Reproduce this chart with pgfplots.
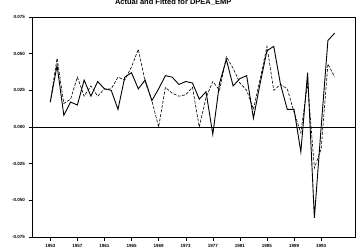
\documentclass[border=0pt]{standalone}
\usepackage{fontspec}
\setmainfont{Liberation Sans}
\usepackage{pgfplots}
\pgfplotsset{compat=1.18}
\begin{document}
\begin{tikzpicture}
\begin{axis}[
  scale only axis, width=323pt, height=220pt,
  xmin=1950.3, xmax=1998, ymin=-0.075, ymax=0.075,
  xtick={1953,1957,...,1993},
  minor x tick num=3,
  ytick={-0.075,-0.05,-0.025,0,0.025,0.05,0.075},
  scaled y ticks=false,
  /pgf/number format/assume math mode=true,
  xticklabel style={font=\fontsize{4.5}{5}\selectfont\bfseries, /pgf/number format/1000 sep={}},
  yticklabel style={font=\fontsize{4.5}{5}\selectfont\bfseries, /pgf/number format/.cd, fixed, fixed zerofill, precision=3},
  xtick pos=left, ytick pos=left,
  tick align=outside,
  major tick length=3.5pt, minor tick length=2.5pt,
  tick style={black, line width=0.4pt},
  axis line style={black, line width=0.6pt},
  title={Actual and Fitted for DPEA\_EMP},
  title style={font=\fontsize{7.5}{8}\selectfont\bfseries, at={(0.437,1)}, anchor=south, yshift=2pt},
]
\coordinate (ll) at (rel axis cs:0,0);
\coordinate (ur) at (rel axis cs:1,1);
\addplot[black, line width=0.8pt] coordinates {(1950.3,0) (1998,0)};
\addplot[black, line width=0.9pt, mark=none] table {
x y
1953 0.017
1954 0.042
1955 0.008
1956 0.017
1957 0.015
1958 0.032
1959 0.021
1960 0.031
1961 0.026
1962 0.025
1963 0.012
1964 0.034
1965 0.037
1966 0.026
1967 0.032
1968 0.018
1969 0.026
1970 0.035
1971 0.034
1972 0.029
1973 0.031
1974 0.030
1975 0.019
1976 0.024
1977 -0.005
1978 0.030
1979 0.046
1980 0.028
1981 0.033
1982 0.035
1983 0.006
1984 0.030
1985 0.052
1986 0.055
1987 0.029
1988 0.012
1989 0.012
1990 -0.017
1991 0.037
1992 -0.062
1993 0.000
1994 0.059
1995 0.064
};
\addplot[black, line width=0.6pt, dash pattern=on 3pt off 1.5pt, mark=none] table {
x y
1953 0.017
1954 0.047
1955 0.016
1956 0.019
1957 0.034
1958 0.021
1959 0.028
1960 0.021
1961 0.026
1962 0.026
1963 0.034
1964 0.032
1965 0.041
1966 0.053
1967 0.031
1968 0.018
1969 0.000
1970 0.027
1971 0.023
1972 0.021
1973 0.022
1974 0.027
1975 0.000
1976 0.020
1977 0.031
1978 0.025
1979 0.048
1980 0.040
1981 0.030
1982 0.025
1983 0.012
1984 0.033
1985 0.055
1986 0.025
1987 0.029
1988 0.026
1989 0.010
1990 -0.004
1991 0.030
1992 -0.028
1993 -0.015
1994 0.043
1995 0.034
};
\end{axis}
\pgfresetboundingbox
\path[use as bounding box] ([shift={(-32pt,-14pt)}]ll) rectangle ([shift={(3pt,17pt)}]ur);
\end{tikzpicture}
\end{document}
